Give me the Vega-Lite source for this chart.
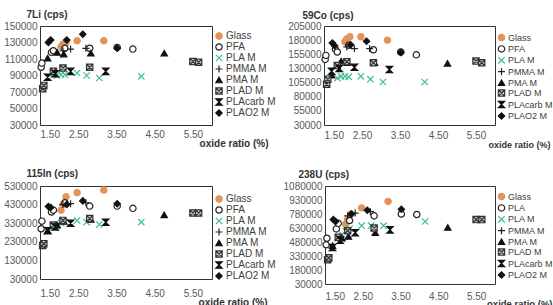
{
  "$schema": "https://vega.github.io/schema/vega-lite/v6.json",
  "padding": {"left": 3, "top": 8, "right": 0, "bottom": 0},
  "background": "white",
  "config": {
    "font": "Liberation Sans",
    "view": {"stroke": "#333333", "strokeWidth": 1},
    "axis": {"grid": false, "ticks": false, "domain": false, "labelFontSize": 10, "labelColor": "#595959", "labelFont": "Liberation Sans", "titleFont": "Liberation Sans", "titleFontWeight": "bold", "titleFontSize": 10, "titleColor": "#333333"},
    "legend": {"labelFont": "Liberation Sans", "labelFontSize": 10, "labelColor": "#404040", "symbolSize": 40, "symbolStrokeWidth": 1.2, "rowPadding": -1.6, "labelOffset": 2, "padding": 0, "orient": "none"},
    "point": {"size": 40, "strokeWidth": 1.2, "opacity": 1}
  },
  "data": {"values": [
    {"p":"7Li","s":"Glass","x":2.05,"y":125000},{"p":"7Li","s":"Glass","x":2.1,"y":128000},{"p":"7Li","s":"Glass","x":2.18,"y":130000},{"p":"7Li","s":"Glass","x":2.47,"y":132000},{"p":"7Li","s":"Glass","x":3.17,"y":132000},
    {"p":"7Li","s":"PFA","x":1.53,"y":100000},{"p":"7Li","s":"PFA","x":1.55,"y":105000},{"p":"7Li","s":"PFA","x":1.8,"y":118000},{"p":"7Li","s":"PFA","x":1.85,"y":120000},{"p":"7Li","s":"PFA","x":2.15,"y":123000},{"p":"7Li","s":"PFA","x":2.8,"y":123000},{"p":"7Li","s":"PFA","x":3.52,"y":124000},{"p":"7Li","s":"PFA","x":3.93,"y":122000},
    {"p":"7Li","s":"PLA M","x":1.85,"y":92000},{"p":"7Li","s":"PLA M","x":1.95,"y":90000},{"p":"7Li","s":"PLA M","x":2.05,"y":91000},{"p":"7Li","s":"PLA M","x":2.15,"y":91000},{"p":"7Li","s":"PLA M","x":2.47,"y":93000},{"p":"7Li","s":"PLA M","x":2.72,"y":90000},{"p":"7Li","s":"PLA M","x":3.05,"y":87000},{"p":"7Li","s":"PLA M","x":4.15,"y":89000},
    {"p":"7Li","s":"PMMA M","x":2.1,"y":120000},{"p":"7Li","s":"PMMA M","x":2.3,"y":122000},{"p":"7Li","s":"PMMA M","x":2.7,"y":123000},
    {"p":"7Li","s":"PMA M","x":1.7,"y":111000},{"p":"7Li","s":"PMA M","x":1.95,"y":118000},{"p":"7Li","s":"PMA M","x":2.12,"y":116000},{"p":"7Li","s":"PMA M","x":2.83,"y":117000},{"p":"7Li","s":"PMA M","x":4.75,"y":117000},
    {"p":"7Li","s":"PLAD M","x":1.57,"y":74000},{"p":"7Li","s":"PLAD M","x":1.6,"y":78000},{"p":"7Li","s":"PLAD M","x":1.85,"y":95000},{"p":"7Li","s":"PLAD M","x":2.1,"y":99000},{"p":"7Li","s":"PLAD M","x":2.8,"y":100000},{"p":"7Li","s":"PLAD M","x":5.5,"y":107000},{"p":"7Li","s":"PLAD M","x":5.65,"y":106000},
    {"p":"7Li","s":"PLAcarb M","x":1.7,"y":88000},{"p":"7Li","s":"PLAcarb M","x":1.9,"y":92000},{"p":"7Li","s":"PLAcarb M","x":2.3,"y":95000},{"p":"7Li","s":"PLAcarb M","x":3.22,"y":95000},
    {"p":"7Li","s":"PLAO2 M","x":1.72,"y":130000},{"p":"7Li","s":"PLAO2 M","x":1.78,"y":133000},{"p":"7Li","s":"PLAO2 M","x":2.2,"y":133000},{"p":"7Li","s":"PLAO2 M","x":2.62,"y":140000},{"p":"7Li","s":"PLAO2 M","x":3.52,"y":123000},

    {"p":"59Co","s":"Glass","x":2.05,"y":177000},{"p":"59Co","s":"Glass","x":2.1,"y":182000},{"p":"59Co","s":"Glass","x":2.18,"y":186000},{"p":"59Co","s":"Glass","x":2.47,"y":186000},{"p":"59Co","s":"Glass","x":3.17,"y":180000},
    {"p":"59Co","s":"PFA","x":1.53,"y":146000},{"p":"59Co","s":"PFA","x":1.55,"y":153000},{"p":"59Co","s":"PFA","x":1.8,"y":164000},{"p":"59Co","s":"PFA","x":1.85,"y":159000},{"p":"59Co","s":"PFA","x":2.15,"y":171000},{"p":"59Co","s":"PFA","x":2.8,"y":163000},{"p":"59Co","s":"PFA","x":3.52,"y":159000},{"p":"59Co","s":"PFA","x":3.93,"y":154000},
    {"p":"59Co","s":"PLA M","x":1.85,"y":113000},{"p":"59Co","s":"PLA M","x":1.95,"y":116000},{"p":"59Co","s":"PLA M","x":2.05,"y":116000},{"p":"59Co","s":"PLA M","x":2.15,"y":115000},{"p":"59Co","s":"PLA M","x":2.47,"y":116000},{"p":"59Co","s":"PLA M","x":2.72,"y":111000},{"p":"59Co","s":"PLA M","x":3.05,"y":106000},{"p":"59Co","s":"PLA M","x":4.15,"y":106000},
    {"p":"59Co","s":"PMMA M","x":2.1,"y":168000},{"p":"59Co","s":"PMMA M","x":2.3,"y":165000},{"p":"59Co","s":"PMMA M","x":2.7,"y":165000},
    {"p":"59Co","s":"PMA M","x":1.7,"y":118000},{"p":"59Co","s":"PMA M","x":1.95,"y":143000},{"p":"59Co","s":"PMA M","x":2.12,"y":140000},{"p":"59Co","s":"PMA M","x":2.83,"y":140000},{"p":"59Co","s":"PMA M","x":4.75,"y":139000},
    {"p":"59Co","s":"PLAD M","x":1.57,"y":102000},{"p":"59Co","s":"PLAD M","x":1.6,"y":111000},{"p":"59Co","s":"PLAD M","x":1.85,"y":135000},{"p":"59Co","s":"PLAD M","x":2.1,"y":142000},{"p":"59Co","s":"PLAD M","x":2.8,"y":140000},{"p":"59Co","s":"PLAD M","x":5.5,"y":143000},{"p":"59Co","s":"PLAD M","x":5.65,"y":140000},
    {"p":"59Co","s":"PLAcarb M","x":1.7,"y":125000},{"p":"59Co","s":"PLAcarb M","x":1.9,"y":130000},{"p":"59Co","s":"PLAcarb M","x":2.3,"y":132000},{"p":"59Co","s":"PLAcarb M","x":3.22,"y":128000},
    {"p":"59Co","s":"PLAO2 M","x":1.72,"y":175000},{"p":"59Co","s":"PLAO2 M","x":1.78,"y":170000},{"p":"59Co","s":"PLAO2 M","x":2.2,"y":172000},{"p":"59Co","s":"PLAO2 M","x":2.62,"y":178000},{"p":"59Co","s":"PLAO2 M","x":3.52,"y":158000},

    {"p":"115In","s":"Glass","x":2.05,"y":400000},{"p":"115In","s":"Glass","x":2.1,"y":430000},{"p":"115In","s":"Glass","x":2.18,"y":472000},{"p":"115In","s":"Glass","x":2.47,"y":494000},{"p":"115In","s":"Glass","x":3.17,"y":508000},
    {"p":"115In","s":"PFA","x":1.53,"y":300000},{"p":"115In","s":"PFA","x":1.55,"y":341000},{"p":"115In","s":"PFA","x":1.8,"y":390000},{"p":"115In","s":"PFA","x":1.85,"y":400000},{"p":"115In","s":"PFA","x":2.15,"y":440000},{"p":"115In","s":"PFA","x":2.8,"y":422000},{"p":"115In","s":"PFA","x":3.52,"y":422000},{"p":"115In","s":"PFA","x":3.93,"y":410000},
    {"p":"115In","s":"PLA M","x":1.85,"y":310000},{"p":"115In","s":"PLA M","x":1.95,"y":318000},{"p":"115In","s":"PLA M","x":2.05,"y":332000},{"p":"115In","s":"PLA M","x":2.15,"y":336000},{"p":"115In","s":"PLA M","x":2.47,"y":345000},{"p":"115In","s":"PLA M","x":2.72,"y":336000},{"p":"115In","s":"PLA M","x":3.05,"y":323000},{"p":"115In","s":"PLA M","x":4.15,"y":336000},
    {"p":"115In","s":"PMMA M","x":2.1,"y":430000},{"p":"115In","s":"PMMA M","x":2.3,"y":435000},{"p":"115In","s":"PMMA M","x":2.7,"y":440000},
    {"p":"115In","s":"PMA M","x":1.7,"y":290000},{"p":"115In","s":"PMA M","x":1.95,"y":320000},{"p":"115In","s":"PMA M","x":2.12,"y":340000},{"p":"115In","s":"PMA M","x":2.83,"y":350000},{"p":"115In","s":"PMA M","x":4.75,"y":375000},
    {"p":"115In","s":"PLAD M","x":1.57,"y":210000},{"p":"115In","s":"PLAD M","x":1.6,"y":220000},{"p":"115In","s":"PLAD M","x":1.85,"y":320000},{"p":"115In","s":"PLAD M","x":2.1,"y":345000},{"p":"115In","s":"PLAD M","x":2.8,"y":355000},{"p":"115In","s":"PLAD M","x":5.5,"y":385000},{"p":"115In","s":"PLAD M","x":5.65,"y":385000},
    {"p":"115In","s":"PLAcarb M","x":1.7,"y":290000},{"p":"115In","s":"PLAcarb M","x":1.9,"y":310000},{"p":"115In","s":"PLAcarb M","x":2.3,"y":330000},{"p":"115In","s":"PLAcarb M","x":3.22,"y":335000},
    {"p":"115In","s":"PLAO2 M","x":1.72,"y":420000},{"p":"115In","s":"PLAO2 M","x":1.78,"y":415000},{"p":"115In","s":"PLAO2 M","x":2.2,"y":430000},{"p":"115In","s":"PLAO2 M","x":2.62,"y":450000},{"p":"115In","s":"PLAO2 M","x":3.52,"y":435000},

    {"p":"238U","s":"Glass","x":2.05,"y":670000},{"p":"238U","s":"Glass","x":2.1,"y":720000},{"p":"238U","s":"Glass","x":2.18,"y":780000},{"p":"238U","s":"Glass","x":2.47,"y":845000},{"p":"238U","s":"Glass","x":3.17,"y":915000},
    {"p":"238U","s":"PLA","x":1.53,"y":450000},{"p":"238U","s":"PLA","x":1.55,"y":520000},{"p":"238U","s":"PLA","x":1.8,"y":620000},{"p":"238U","s":"PLA","x":1.85,"y":680000},{"p":"238U","s":"PLA","x":2.15,"y":710000},{"p":"238U","s":"PLA","x":2.8,"y":760000},{"p":"238U","s":"PLA","x":3.52,"y":780000},{"p":"238U","s":"PLA","x":3.93,"y":775000},
    {"p":"238U","s":"PLA M","x":1.85,"y":520000},{"p":"238U","s":"PLA M","x":1.95,"y":560000},{"p":"238U","s":"PLA M","x":2.05,"y":600000},{"p":"238U","s":"PLA M","x":2.15,"y":625000},{"p":"238U","s":"PLA M","x":2.47,"y":655000},{"p":"238U","s":"PLA M","x":2.72,"y":655000},{"p":"238U","s":"PLA M","x":3.05,"y":655000},{"p":"238U","s":"PLA M","x":4.15,"y":700000},
    {"p":"238U","s":"PMMA M","x":2.1,"y":760000},{"p":"238U","s":"PMMA M","x":2.3,"y":790000},{"p":"238U","s":"PMMA M","x":2.7,"y":805000},
    {"p":"238U","s":"PMA M","x":1.7,"y":440000},{"p":"238U","s":"PMA M","x":1.95,"y":520000},{"p":"238U","s":"PMA M","x":2.12,"y":540000},{"p":"238U","s":"PMA M","x":2.83,"y":580000},{"p":"238U","s":"PMA M","x":4.75,"y":635000},
    {"p":"238U","s":"PLAD M","x":1.57,"y":290000},{"p":"238U","s":"PLAD M","x":1.6,"y":310000},{"p":"238U","s":"PLAD M","x":1.85,"y":530000},{"p":"238U","s":"PLAD M","x":2.1,"y":600000},{"p":"238U","s":"PLAD M","x":2.8,"y":630000},{"p":"238U","s":"PLAD M","x":5.5,"y":720000},{"p":"238U","s":"PLAD M","x":5.65,"y":720000},
    {"p":"238U","s":"PLAcarb M","x":1.7,"y":420000},{"p":"238U","s":"PLAcarb M","x":1.9,"y":500000},{"p":"238U","s":"PLAcarb M","x":2.3,"y":580000},{"p":"238U","s":"PLAcarb M","x":3.22,"y":610000},
    {"p":"238U","s":"PLAO2 M","x":1.72,"y":720000},{"p":"238U","s":"PLAO2 M","x":1.78,"y":700000},{"p":"238U","s":"PLAO2 M","x":2.2,"y":780000},{"p":"238U","s":"PLAO2 M","x":2.62,"y":820000},{"p":"238U","s":"PLAO2 M","x":3.52,"y":830000}
  ]},
  "resolve": {"scale": {"x": "independent", "y": "independent", "shape": "independent", "fill": "independent", "stroke": "independent"}, "legend": {"shape": "independent", "fill": "independent", "stroke": "independent"}},
  "spacing": 17,
  "vconcat": [
    {
      "spacing": 10,
      "resolve": {"scale": {"x": "independent", "y": "independent", "shape": "independent", "fill": "independent", "stroke": "independent"}, "legend": {"shape": "independent", "fill": "independent", "stroke": "independent"}},
      "hconcat": [
        {
          "width": 172, "height": 99,
          "transform": [{"filter": "datum.p == '7Li'"}],
          "mark": {"type": "point"},
          "encoding": {
            "x": {"field": "x", "type": "quantitative", "scale": {"domain": [1.5, 6], "nice": false, "zero": false}, "axis": {"title": "oxide ratio (%)", "values": [1.5, 2.5, 3.5, 4.5, 5.5], "format": ".2f", "labelPadding": 4, "titleAlign": "right", "titleBaseline": "middle", "titleX": 228, "titleY": 18}},
            "y": {"field": "y", "type": "quantitative", "scale": {"domain": [30000, 150000], "nice": false, "zero": false}, "axis": {"title": "7Li (cps)", "values": [30000, 50000, 70000, 90000, 110000, 130000, 150000], "format": "d", "labelPadding": 3, "minExtent": 36, "maxExtent": 36, "titleAngle": 0, "titleAlign": "left", "titleBaseline": "middle", "titleX": -14, "titleY": -12}},
            "shape": {"field": "s", "type": "nominal", "scale": {"domain": ["Glass", "PFA", "PLA M", "PMMA M", "PMA M", "PLAD M", "PLAcarb M", "PLAO2 M"], "range": ["circle", "circle", "M-1,-1L1,1M-1,1L1,-1", "M0,-1.1L0,1.1M-1.1,0L1.1,0", "triangle-up", "M-1,-1H1V1H-1ZM-1,-1L1,1M-1,1L1,-1", "M-1,-1H1L-1,1H1Z", "diamond"]}, "legend": {"title": null, "legendX": 174, "legendY": 5}},
            "fill": {"field": "s", "type": "nominal", "scale": {"domain": ["Glass", "PFA", "PLA M", "PMMA M", "PMA M", "PLAD M", "PLAcarb M", "PLAO2 M"], "range": ["#E3945A", "white", "transparent", "transparent", "#111111", "#c8c8c8", "#111111", "#111111"]}, "legend": {"title": null, "legendX": 174, "legendY": 5}},
            "stroke": {"field": "s", "type": "nominal", "scale": {"domain": ["Glass", "PFA", "PLA M", "PMMA M", "PMA M", "PLAD M", "PLAcarb M", "PLAO2 M"], "range": ["#E3945A", "#222222", "#3DBE8A", "#222222", "#111111", "#333333", "#111111", "#111111"]}, "legend": {"title": null, "legendX": 174, "legendY": 5}}
          }
        },
        {
          "width": 171, "height": 99,
          "transform": [{"filter": "datum.p == '59Co'"}],
          "mark": {"type": "point"},
          "encoding": {
            "x": {"field": "x", "type": "quantitative", "scale": {"domain": [1.5, 6], "nice": false, "zero": false}, "axis": {"title": "oxide ratio (%)", "titleFontSize": 9, "values": [1.5, 2.5, 3.5, 4.5, 5.5], "format": ".2f", "labelPadding": 5, "titleAlign": "right", "titleBaseline": "middle", "titleX": 226, "titleY": 19}},
            "y": {"field": "y", "type": "quantitative", "scale": {"domain": [30000, 205000], "nice": false, "zero": false}, "axis": {"title": "59Co (cps)", "values": [30000, 55000, 80000, 105000, 130000, 155000, 180000, 205000], "format": "d", "labelPadding": 3, "minExtent": 36, "maxExtent": 36, "titleAngle": 0, "titleAlign": "left", "titleBaseline": "middle", "titleX": -22, "titleY": -11}},
            "shape": {"field": "s", "type": "nominal", "scale": {"domain": ["Glass", "PFA", "PLA M", "PMMA M", "PMA M", "PLAD M", "PLAcarb M", "PLAO2 M"], "range": ["circle", "circle", "M-1,-1L1,1M-1,1L1,-1", "M0,-1.1L0,1.1M-1.1,0L1.1,0", "triangle-up", "M-1,-1H1V1H-1ZM-1,-1L1,1M-1,1L1,-1", "M-1,-1H1L-1,1H1Z", "diamond"]}, "legend": {"title": null, "legendX": 173, "legendY": 7, "labelFontSize": 9}},
            "fill": {"field": "s", "type": "nominal", "scale": {"domain": ["Glass", "PFA", "PLA M", "PMMA M", "PMA M", "PLAD M", "PLAcarb M", "PLAO2 M"], "range": ["#E3945A", "white", "transparent", "transparent", "#111111", "#c8c8c8", "#111111", "#111111"]}, "legend": {"title": null, "legendX": 173, "legendY": 7, "labelFontSize": 9}},
            "stroke": {"field": "s", "type": "nominal", "scale": {"domain": ["Glass", "PFA", "PLA M", "PMMA M", "PMA M", "PLAD M", "PLAcarb M", "PLAO2 M"], "range": ["#E3945A", "#222222", "#3DBE8A", "#222222", "#111111", "#333333", "#111111", "#111111"]}, "legend": {"title": null, "legendX": 173, "legendY": 7, "labelFontSize": 9}}
          }
        }
      ]
    },
    {
      "spacing": 5,
      "resolve": {"scale": {"x": "independent", "y": "independent", "shape": "independent", "fill": "independent", "stroke": "independent"}, "legend": {"shape": "independent", "fill": "independent", "stroke": "independent"}},
      "hconcat": [
        {
          "width": 172, "height": 93,
          "transform": [{"filter": "datum.p == '115In'"}],
          "mark": {"type": "point"},
          "encoding": {
            "x": {"field": "x", "type": "quantitative", "scale": {"domain": [1.5, 6], "nice": false, "zero": false}, "axis": {"title": "oxide ratio (%)", "values": [1.5, 2.5, 3.5, 4.5, 5.5], "format": ".2f", "labelPadding": 9, "titleAlign": "right", "titleBaseline": "middle", "titleX": 227, "titleY": 23}},
            "y": {"field": "y", "type": "quantitative", "scale": {"domain": [30000, 530000], "nice": false, "zero": false}, "axis": {"title": "115In (cps)", "values": [30000, 130000, 230000, 330000, 430000, 530000], "format": "d", "labelPadding": 3, "minExtent": 36, "maxExtent": 36, "titleAngle": 0, "titleAlign": "left", "titleBaseline": "middle", "titleX": -14, "titleY": -13}},
            "shape": {"field": "s", "type": "nominal", "scale": {"domain": ["Glass", "PFA", "PLA M", "PMMA M", "PMA M", "PLAD M", "PLAcarb M", "PLAO2 M"], "range": ["circle", "circle", "M-1,-1L1,1M-1,1L1,-1", "M0,-1.1L0,1.1M-1.1,0L1.1,0", "triangle-up", "M-1,-1H1V1H-1ZM-1,-1L1,1M-1,1L1,-1", "M-1,-1H1L-1,1H1Z", "diamond"]}, "legend": {"title": null, "legendX": 174, "legendY": 8}},
            "fill": {"field": "s", "type": "nominal", "scale": {"domain": ["Glass", "PFA", "PLA M", "PMMA M", "PMA M", "PLAD M", "PLAcarb M", "PLAO2 M"], "range": ["#E3945A", "white", "transparent", "transparent", "#111111", "#c8c8c8", "#111111", "#111111"]}, "legend": {"title": null, "legendX": 174, "legendY": 8}},
            "stroke": {"field": "s", "type": "nominal", "scale": {"domain": ["Glass", "PFA", "PLA M", "PMMA M", "PMA M", "PLAD M", "PLAcarb M", "PLAO2 M"], "range": ["#E3945A", "#222222", "#3DBE8A", "#222222", "#111111", "#333333", "#111111", "#111111"]}, "legend": {"title": null, "legendX": 174, "legendY": 8}}
          }
        },
        {
          "width": 170, "height": 98,
          "transform": [{"filter": "datum.p == '238U'"}],
          "mark": {"type": "point"},
          "encoding": {
            "x": {"field": "x", "type": "quantitative", "scale": {"domain": [1.5, 6], "nice": false, "zero": false}, "axis": {"title": "oxide ratio (%)", "titleFontSize": 9.5, "values": [1.5, 2.5, 3.5, 4.5, 5.5], "format": ".2f", "labelPadding": 7, "titleAlign": "right", "titleBaseline": "middle", "titleX": 227, "titleY": 19}},
            "y": {"field": "y", "type": "quantitative", "scale": {"domain": [30000, 1080000], "nice": false, "zero": false}, "axis": {"title": "238U (cps)", "values": [30000, 180000, 330000, 480000, 630000, 780000, 930000, 1080000], "format": "d", "labelPadding": 3, "minExtent": 42, "maxExtent": 42, "titleAngle": 0, "titleAlign": "left", "titleBaseline": "middle", "titleX": -27, "titleY": -12}},
            "shape": {"field": "s", "type": "nominal", "scale": {"domain": ["Glass", "PLA", "PLA M", "PMMA M", "PMA M", "PLAD M", "PLAcarb M", "PLAO2 M"], "range": ["circle", "circle", "M-1,-1L1,1M-1,1L1,-1", "M0,-1.1L0,1.1M-1.1,0L1.1,0", "triangle-up", "M-1,-1H1V1H-1ZM-1,-1L1,1M-1,1L1,-1", "M-1,-1H1L-1,1H1Z", "diamond"]}, "legend": {"title": null, "legendX": 172, "legendY": 6, "labelFontSize": 9}},
            "fill": {"field": "s", "type": "nominal", "scale": {"domain": ["Glass", "PLA", "PLA M", "PMMA M", "PMA M", "PLAD M", "PLAcarb M", "PLAO2 M"], "range": ["#E3945A", "white", "transparent", "transparent", "#111111", "#c8c8c8", "#111111", "#111111"]}, "legend": {"title": null, "legendX": 172, "legendY": 6, "labelFontSize": 9}},
            "stroke": {"field": "s", "type": "nominal", "scale": {"domain": ["Glass", "PLA", "PLA M", "PMMA M", "PMA M", "PLAD M", "PLAcarb M", "PLAO2 M"], "range": ["#E3945A", "#222222", "#3DBE8A", "#222222", "#111111", "#333333", "#111111", "#111111"]}, "legend": {"title": null, "legendX": 172, "legendY": 6, "labelFontSize": 9}}
          }
        }
      ]
    }
  ]
}
